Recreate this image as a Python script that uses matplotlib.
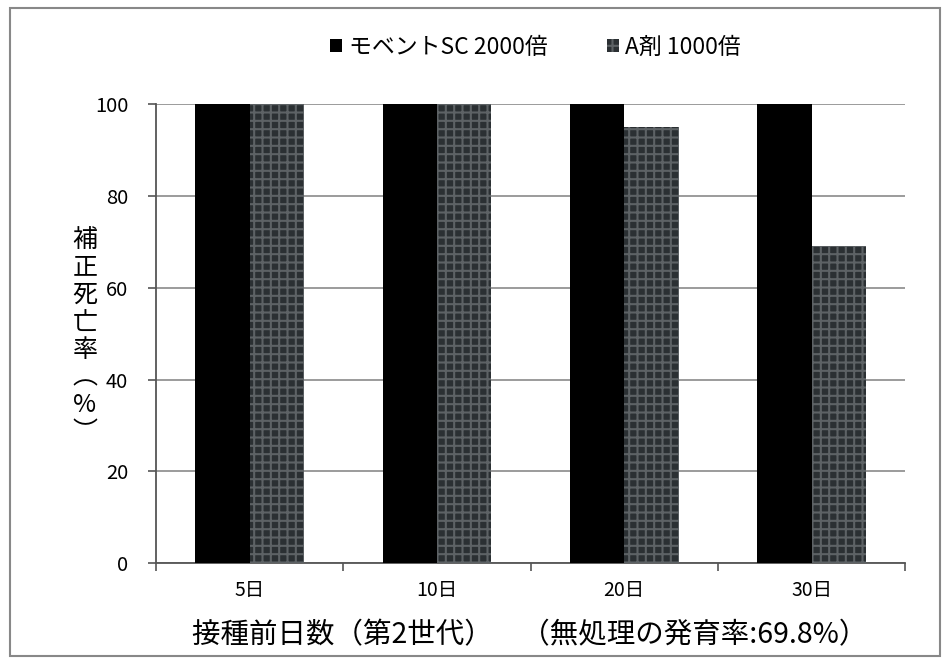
import matplotlib
matplotlib.use("Agg")
import matplotlib.pyplot as plt
import numpy as np
from matplotlib.patches import Rectangle

plt.rcParams['font.family'] = ['Noto Sans CJK JP', 'DejaVu Sans']
plt.rcParams['hatch.linewidth'] = 1.5

categories = ['5日', '10日', '20日', '30日']
series_names = ['モベントSC 2000倍', 'A剤 1000倍']
movento = [100, 100, 100, 100]
agent_a = [100, 100, 95, 69]
yticks = [0, 20, 40, 60, 80, 100]
ylabel_chars = ['補', '正', '死', '亡', '率', '︵', '%', '︶']
xlabel_text = '接種前日数（第2世代）　（無処理の発育率:69.8%）'

fig = plt.figure(figsize=(9.45, 6.64), dpi=100)
ax = fig.add_axes([0.165, 0.152, 0.793, 0.691])

x = np.arange(len(categories))
w = 0.29
ax.bar(x - w/2, movento, width=w, color='black', zorder=3, label=series_names[0])
ax.bar(x + w/2, agent_a, width=w, facecolor='#2b3033', edgecolor='#5d6265',
       hatch='++', linewidth=0, zorder=3, label=series_names[1])

ax.set_xlim(-0.5, len(categories) - 0.5)
ax.set_ylim(0, 100)
ax.set_yticks(yticks)
ax.set_yticklabels([str(v) for v in yticks], fontsize=14.5)
ax.yaxis.grid(True, color='#8a8a8a', linewidth=1.2, zorder=0)
ax.set_axisbelow(True)
for s in ['top', 'right']:
    ax.spines[s].set_visible(False)
ax.spines['left'].set_color('#555555')
ax.spines['left'].set_linewidth(1.3)
ax.spines['bottom'].set_color('#555555')
ax.spines['bottom'].set_linewidth(1.3)
ax.tick_params(axis='y', length=6, width=1.2, color='#555555', pad=14)

ax.set_xticks(x)
ax.set_xticklabels(categories, fontsize=14)
ax.tick_params(axis='x', length=0, pad=12)
ax.set_xticks(np.arange(len(categories) + 1) - 0.5, minor=True)
ax.tick_params(axis='x', which='minor', length=6, width=1.2, color='#555555')

# x-axis title placed below tick labels
fig.text(0.560, 0.044, xlabel_text, fontsize=20.5, ha='center', va='center')

# vertical stacked y-axis title
y0_px, step_px = 240, 27.5
for i, ch in enumerate(ylabel_chars):
    fig.text(0.090, 1 - (y0_px + i * step_px) / 664, ch, fontsize=18,
             ha='center', va='center')

fig.legend(handles=ax.get_legend_handles_labels()[0], labels=series_names,
           loc='center', bbox_to_anchor=(0.567, 0.929), ncol=2, frameon=False,
           fontsize=16.5, handlelength=0.5, handleheight=0.5, columnspacing=2.6,
           handletextpad=0.3)

fig.patches.append(Rectangle((0.011, 0.012), 0.984, 0.976, transform=fig.transFigure,
                             fill=False, edgecolor='#888888', linewidth=1.5))

fig.savefig('out.png', dpi=100)
